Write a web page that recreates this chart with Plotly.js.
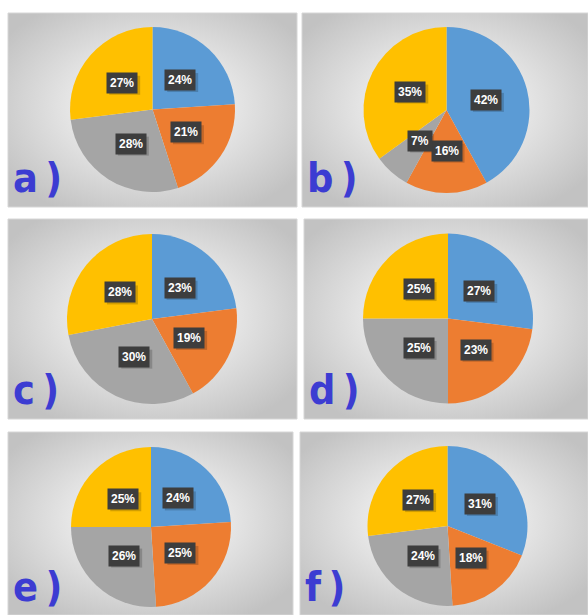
<!DOCTYPE html>
<html>
<head>
<meta charset="utf-8">
<script src="https://cdn.plot.ly/plotly-3.0.1.min.js"></script>
<style>
  html, body { margin: 0; padding: 0; background: #ffffff; }
  #chart { width: 588px; height: 615px; }
</style>
</head>
<body>
<div id="chart"></div>
<script>
// Panel letters and the four slice shares of each panel
const panelLabels = ['a\u2009)', 'b\u2009)', 'c\u2009)', 'd\u2009)', 'e\u2009)', 'f\u2009)'];
const blueShare   = [24, 42, 23, 27, 24, 31];
const orangeShare = [21, 16, 19, 23, 25, 18];
const grayShare   = [28,  7, 30, 25, 26, 24];
const yellowShare = [27, 35, 28, 25, 25, 27];
const sliceColors = ['#5B9BD5', '#ED7D31', '#A5A5A5', '#FFC000'];

// Page geometry (pixels): panel boxes and pie centre / radius
const W = 588, H = 615;
const panels = [
  {x0: 8,   x1: 297, y0: 13,  y1: 207, cx: 152.5, cy: 109.5, r: 82.5},
  {x0: 302, x1: 588, y0: 13,  y1: 207, cx: 446.5, cy: 110,   r: 83},
  {x0: 8,   x1: 297, y0: 219, y1: 419, cx: 152,   cy: 319,   r: 85},
  {x0: 304, x1: 588, y0: 219, y1: 419, cx: 448,   cy: 318.5, r: 85},
  {x0: 8,   x1: 293, y0: 432, y1: 615, cx: 151,   cy: 527,   r: 80},
  {x0: 300, x1: 588, y0: 432, y1: 615, cx: 447.5, cy: 526,   r: 80}
];
const px = v => v / W;
const py = v => 1 - v / H;

// Soft radial backdrop for each panel
const bgSvg = encodeURIComponent(
  '<svg xmlns="http://www.w3.org/2000/svg" width="300" height="200" preserveAspectRatio="none">' +
  '<defs><radialGradient id="g" cx="50%" cy="48%" r="62%">' +
  '<stop offset="0" stop-color="#f6f6f6"/><stop offset="0.45" stop-color="#e6e6e6"/>' +
  '<stop offset="1" stop-color="#c2c2c2"/></radialGradient></defs>' +
  '<rect width="300" height="200" fill="url(#g)"/></svg>');
const bgSrc = 'data:image/svg+xml;charset=utf-8,' + bgSvg;

const traces = [], annotations = [], images = [], shapes = [];

panels.forEach((p, i) => {
  const vals = [blueShare[i], orangeShare[i], grayShare[i], yellowShare[i]];
  const total = vals.reduce((a, b) => a + b, 0);

  images.push({
    source: bgSrc, xref: 'paper', yref: 'paper',
    x: px(p.x0), y: py(p.y0), sizex: px(p.x1) - px(p.x0), sizey: py(p.y0) - py(p.y1),
    xanchor: 'left', yanchor: 'top', sizing: 'stretch', layer: 'below'
  });
  shapes.push({
    type: 'rect', xref: 'paper', yref: 'paper', layer: 'below',
    x0: px(p.x0), x1: px(p.x1), y0: py(p.y1), y1: py(p.y0),
    line: {color: '#d6d6d6', width: 1}, fillcolor: 'rgba(0,0,0,0)'
  });

  traces.push({
    type: 'pie', values: vals, labels: ['s1', 's2', 's3', 's4'],
    sort: false, direction: 'clockwise', rotation: 0,
    marker: {colors: sliceColors, line: {width: 0}},
    textinfo: 'none', hoverinfo: 'skip', showlegend: false,
    domain: {x: [px(p.cx - p.r), px(p.cx + p.r)], y: [py(p.cy + p.r), py(p.cy - p.r)]}
  });

  // Value boxes along each slice's bisector, about half way out
  let cum = 0;
  vals.forEach(v => {
    const theta = (cum + v / 2) / total * 2 * Math.PI;
    cum += v;
    const d = 0.49 * p.r;
    const lx = p.cx + Math.sin(theta) * d;
    const ly = p.cy - Math.cos(theta) * d;
    const txt = Math.round(v / total * 100) + '%';
    // drop shadow behind the box
    const bw = 10 + 7 * txt.length, bh = 19;
    shapes.push({
      type: 'rect', xref: 'paper', yref: 'paper', layer: 'above',
      x0: px(lx - bw / 2 + 2.5), x1: px(lx + bw / 2 + 2.5),
      y0: py(ly + bh / 2 + 2.5), y1: py(ly - bh / 2 + 2.5),
      line: {width: 0}, fillcolor: 'rgba(0,0,0,0.18)'
    });
    annotations.push({
      xref: 'paper', yref: 'paper', x: px(lx), y: py(ly),
      xanchor: 'center', yanchor: 'middle',
      text: '<b>' + txt + '</b>', showarrow: false,
      font: {family: 'Liberation Sans, Arial, sans-serif', size: 12, color: '#ffffff'},
      bgcolor: '#3d3d3d', borderpad: 3
    });
  });

  annotations.push({
    xref: 'paper', yref: 'paper', x: px(p.x0 + 3), y: py(p.y1 - (i >= 4 ? 2 : 3)),
    xanchor: 'left', yanchor: 'bottom', showarrow: false,
    text: '<b>' + panelLabels[i] + '</b>',
    font: {family: 'Liberation Sans Narrow, DejaVu Sans Condensed, sans-serif', size: 41, color: '#3c3cd2'}
  });
});

Plotly.newPlot('chart', traces, {
  width: W, height: H,
  margin: {l: 0, r: 0, t: 0, b: 0},
  paper_bgcolor: '#ffffff', plot_bgcolor: '#ffffff',
  showlegend: false,
  images: images, shapes: shapes, annotations: annotations
}, {displayModeBar: false, staticPlot: true});
</script>
</body>
</html>
